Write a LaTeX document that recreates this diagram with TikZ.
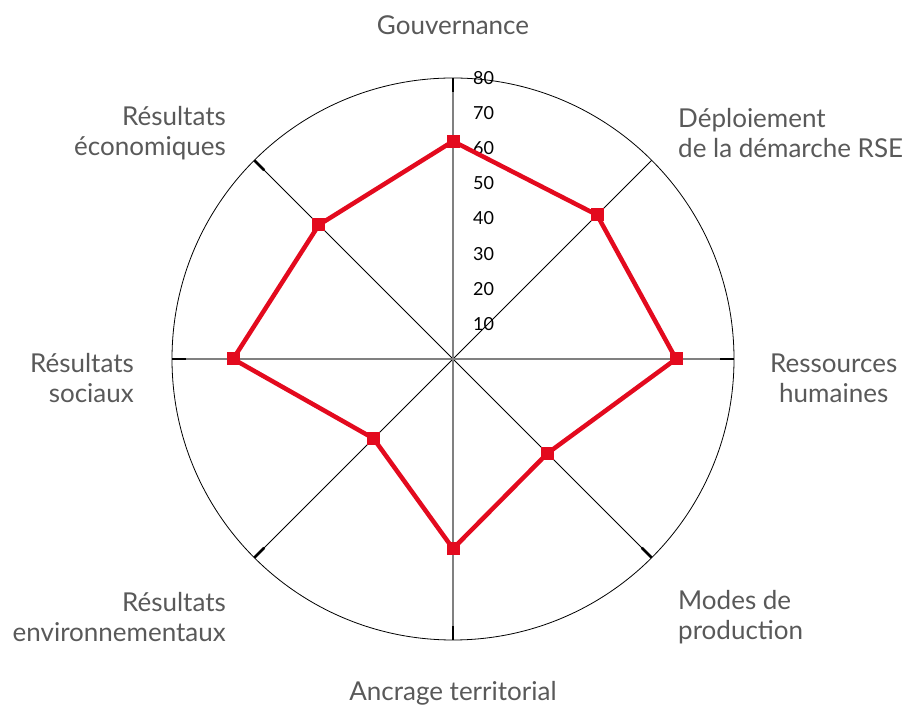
\documentclass[tikz,border=0pt]{standalone}
\usepackage{fontspec}
\setmainfont{Lato}
\usetikzlibrary{positioning}
\definecolor{rsered}{HTML}{E30A1E}
\definecolor{labelgray}{HTML}{595959}
\tikzstyle{axis}=[draw=black,line width=0.8pt]
\tikzstyle{main axis}=[draw=black!50,line width=1.5pt]
\tikzstyle{tick}=[draw=black,line width=2.5pt]
\tikzstyle{score}=[draw=rsered,line width=4.5pt,line join=round]
\tikzstyle{marker}=[rectangle,fill=rsered,minimum size=13pt,inner sep=0pt]
\tikzstyle{scale label}=[anchor=west,inner sep=0pt,font=\fontsize{18}{18}\selectfont]
\tikzstyle{dimension}=[inner sep=0pt,text=labelgray,font=\fontsize{26}{30}\selectfont]

\begin{document}
\begin{tikzpicture}[x=1pt,y=1pt]
  \useasboundingbox (0,0) rectangle (905,709);
  \begin{scope}[shift={(453,350)}]
    \coordinate (centre) at (0,0);
    % rim points of the eight axes
    \foreach \ang/\name in {90/gouv,45/depl,0/rh,-45/modes,-90/ancr,-135/env,180/soc,135/eco}
        \coordinate (rim-\name) at (\ang:281);
    \draw[axis] (centre) circle (281pt);
    \foreach \name in {depl,modes,env,eco}
        \path[axis] (centre) -- (rim-\name);
    \foreach \name in {gouv,rh,ancr,soc}
        \path[main axis] (centre) -- (rim-\name);
    \foreach \ang/\name in {90/gouv,0/rh,-45/modes,-90/ancr,-135/env,180/soc,135/eco}
        \path[tick] (rim-\name) -- (\ang:267);
    % scale
    \foreach \val in {10,20,...,80}
        \node[scale label] (scale-\val) at (20,{\val*3.5125}) {\val};
    % scores
    \foreach \ang/\val/\name in {90/62/gouv,45/58/depl,0/63.5/rh,-45/38/modes,-90/54/ancr,-135/32/env,180/62.6/soc,135/54/eco}
        \coordinate (pt-\name) at (\ang:{\val*3.5125});
    \path[score] (pt-gouv) -- (pt-depl) -- (pt-rh) -- (pt-modes) -- (pt-ancr)
        -- (pt-env) -- (pt-soc) -- (pt-eco) -- cycle;
    \foreach \name in {gouv,depl,rh,modes,ancr,env,soc,eco}
        \node[marker] at (pt-\name) {};
    % axis labels
    \node[dimension] (lab-gouv) at (0,334) {Gouvernance};
    \node[dimension,anchor=west,align=left] (lab-depl) at (225,226) {Déploiement\\de la démarche RSE};
    \node[dimension,anchor=west,align=center] (lab-rh) at (317,-19) {Ressources\\humaines};
    \node[dimension,anchor=west,align=left] (lab-modes) at (225,-258) {Modes de\\production};
    \node[dimension] (lab-ancr) at (0,-334) {Ancrage territorial};
    \node[dimension,anchor=east,align=right] (lab-env) at (-227,-258) {Résultats\\environnementaux};
    \node[dimension,anchor=east,align=right] (lab-soc) at (-319,-19) {Résultats\\sociaux};
    \node[dimension,anchor=east,align=right] (lab-eco) at (-227,226) {Résultats\\économiques};
  \end{scope}
\end{tikzpicture}
\end{document}
